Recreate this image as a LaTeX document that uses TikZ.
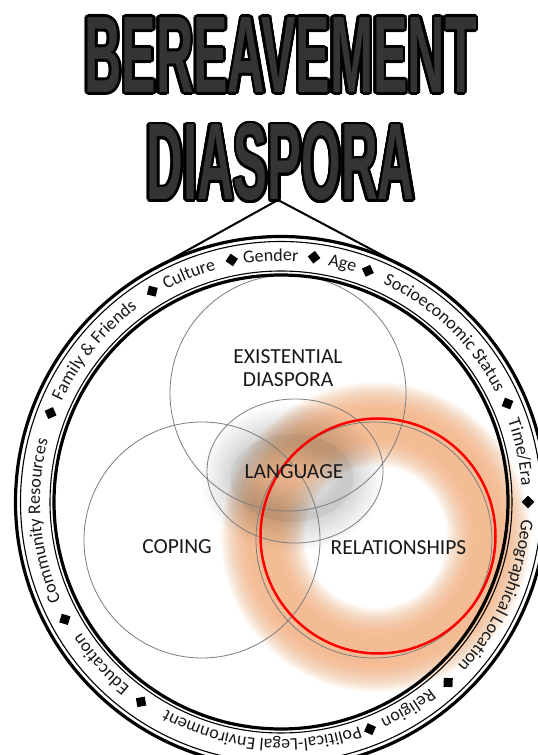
\documentclass[tikz,border=0pt]{standalone}
\usepackage{fontspec}
\setmainfont{Carlito}
\newfontfamily\titlefont{Liberation Sans}
\usetikzlibrary{decorations.text,shapes.geometric}
\definecolor{peach}{RGB}{244,176,126}
\definecolor{titlegray}{RGB}{52,52,52}
\definecolor{thinline}{RGB}{125,125,125}
\definecolor{inktext}{RGB}{25,25,25}
\newcommand\rf{\fontsize{18}{20}\selectfont\color{inktext}}
\newcommand\titleA{\resizebox{392pt}{75pt}{\titlefont\bfseries BEREAVEMENT}}
\newcommand\titleB{\resizebox{268pt}{76pt}{\titlefont\bfseries DIASPORA}}
\newcommand\ringlabel[3][241]{%
  \path[decorate,decoration={text along path,text={|\rf|#3},text align=center}]
    ([shift={(#2+50:#1)}]rc) arc[start angle=#2+50,end angle=#2-50,radius=#1];}
\begin{document}
\begin{tikzpicture}[x=1pt,y=1pt,
  venn/.style={draw=thinline,line width=0.8pt,inner sep=0pt},
  inner label/.style={inner sep=0pt,text=inktext,font=\fontsize{21.5}{24}\selectfont},
  thickring/.style={line width=3.2pt},
  thinring/.style={line width=1.1pt},
  gem/.style={fill=black,inner sep=0pt,minimum size=9pt},
  titlefill/.style={inner sep=0pt,text=titlegray},
  titleedge/.style={inner sep=0pt,text=black}]
\useasboundingbox (0,0) rectangle (538,755);
\clip (0,0) rectangle (538,755);
\fill[white] (0,0) rectangle (538,755);

% ring centre
\coordinate (rc) at (281,253);

% orange glow
\coordinate (glow) at (376,218);
\foreach \w in {30,32,...,84} \draw[peach,line width=\w pt,opacity=0.05] (glow) circle (113);

% grey glow inside LANGUAGE
\coordinate (gglow) at (292,277);
\fill[black,opacity=0.035] (gglow) ellipse (62 and 44);
\foreach \w in {12,18,...,72} \draw[black,line width=\w pt,opacity=0.016] (gglow) ellipse (54 and 38);

% Venn circles
\node[venn,circle,minimum size=236pt] (exist) at (288,362) {};
\node[venn,circle,minimum size=236pt] (coping) at (202,215) {};
\node[venn,circle,minimum size=236pt] (relat) at (374,215) {};
\node[venn,ellipse,minimum width=176pt,minimum height=144pt] (lang) at (295,284) {};
\node[draw=red,line width=2.5pt,circle,minimum size=235pt,inner sep=0pt] (redc) at (378,219) {};

% inner texts
\node[inner label] (t1) at (288,398.5) {EXISTENTIAL};
\node[inner label] (t2) at (288,375) {DIASPORA};
\node[inner label] (t3) at (294,283.5) {LANGUAGE};
\node[inner label] (t4) at (177,208) {COPING};
\node[inner label] (t5) at (398.5,207.5) {RELATIONSHIPS};

% outer ring
\draw[thickring] (rc) circle (265.5);
\draw[thinring] (rc) circle (260.5);
\draw[thinring] (rc) circle (231);
\draw[thickring] (rc) circle (227);

% ring labels (clockwise)
\ringlabel{184.6}{Community Resources}
\ringlabel{141}{Family {\&} Friends}
\ringlabel{112}{Culture}
\ringlabel{92.4}{Gender}
\ringlabel{75.5}{Age}
\ringlabel{46}{Socioeconomic Status}
\ringlabel{11.7}{Time/Era}
\ringlabel{-23.5}{Geographical Location}
\ringlabel[239]{-58.4}{Religion}
\ringlabel[237.5]{-94.8}{Political-Legal Environment}
\ringlabel[239]{-138}{Education}

% diamonds
\foreach \a/\r [count=\i] in {158.9/247,121.4/247,101.5/247,82.3/247,69.4/247,23.5/247,0/247,-47.2/246,-68.6/244,-125/244,-151.5/246}
  \node[gem,rotate=\a+45] (dm\i) at ([shift={(\a:\r)}]rc) {};

% title
\coordinate (tA) at (280.5,700);
\coordinate (tB) at (280.5,592.5);
\foreach \ang in {0,22.5,...,337.5} {
  \node[titleedge] at ([shift={(\ang:2.6)}]tA) {\titleA};
  \node[titleedge] at ([shift={(\ang:2.6)}]tB) {\titleB};
}
\node[titlefill] (title1) at (tA) {\titleA};
\node[titlefill] (title2) at (tB) {\titleB};

% connector from title to ring (tangents)
\coordinate (apex) at (278,555);
\coordinate (tl) at ([shift={(119.24:265.5)}]rc);
\coordinate (tr) at ([shift={(61.9:265.5)}]rc);
\draw[line width=2pt,line join=round] (tl) -- (apex) -- (tr);
\end{tikzpicture}
\end{document}
